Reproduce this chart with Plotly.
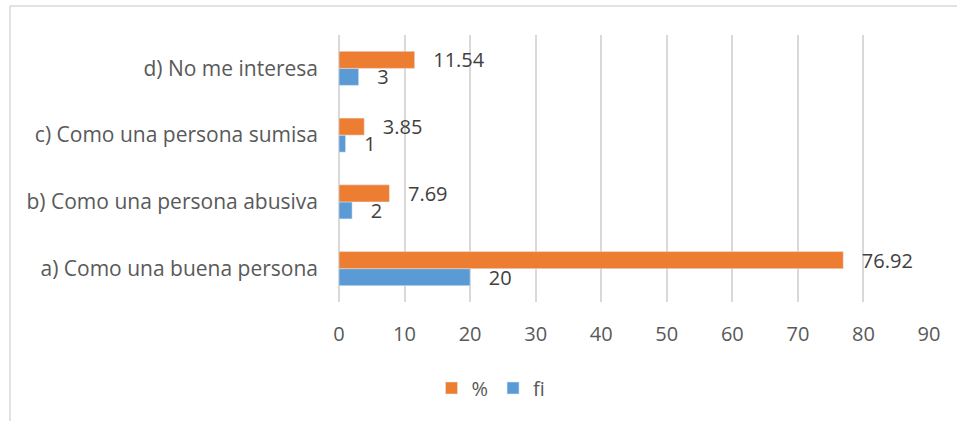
import plotly.graph_objects as go

categories = ["a) Como una buena persona", "b) Como una persona abusiva",
              "c) Como una persona sumisa", "d) No me interesa"]
fi_values = [20, 2, 1, 3]
pct_values = [76.92, 7.69, 3.85, 11.54]
x_ticks = [0, 10, 20, 30, 40, 50, 60, 70, 80, 90]

FONT = "Open Sans"
W, H = 957, 421
L, R, T, B = 339, 28, 35, 119
pw, ph = W - L - R, H - T - B

fig = go.Figure()
fig.add_trace(go.Bar(
    y=categories, x=fi_values, name="fi", orientation="h",
    marker=dict(color="#5B9BD5"),
    text=[f"{v:g}" for v in fi_values], texttemplate="   %{text}",
    textposition="outside", cliponaxis=False, constraintext="none",
    textfont=dict(family=FONT, size=20, color="#404040"),
))
fig.add_trace(go.Bar(
    y=categories, x=pct_values, name="%", orientation="h",
    marker=dict(color="#ED7D31"),
    text=[f"{v:.2f}" for v in pct_values], texttemplate="   %{text}",
    textposition="outside", cliponaxis=False, constraintext="none",
    textfont=dict(family=FONT, size=20, color="#404040"),
))

def px_x(px):
    return (px - L) / pw

def px_y(py):
    return (H - B - py) / ph

fig.update_layout(
    width=W, height=H,
    margin=dict(l=L, r=R, t=T, b=B, autoexpand=False),
    paper_bgcolor="white", plot_bgcolor="white",
    barmode="group", bargap=0.49, bargroupgap=0,
    font=dict(family=FONT, size=20, color="#595959"),
    showlegend=True,
    legend=dict(orientation="h", traceorder="reversed",
                x=px_x(491), xanchor="center", y=px_y(388), yanchor="middle",
                font=dict(family=FONT, size=20, color="#595959"),
                itemwidth=30, bgcolor="rgba(0,0,0,0)"),
    shapes=[dict(type="rect", xref="paper", yref="paper",
                 x0=px_x(10), x1=px_x(1200), y0=px_y(600), y1=px_y(6),
                 line=dict(color="#D9D9D9", width=1.5), fillcolor="rgba(0,0,0,0)",
                 layer="below")],
)
fig.update_xaxes(range=[0, 90], tickvals=x_ticks, showgrid=True,
                 gridcolor="#D9D9D9", gridwidth=1.5, zeroline=True,
                 zerolinecolor="#D9D9D9", zerolinewidth=1.5, showline=False,
                 ticklabelstandoff=18, automargin=False,
                 tickfont=dict(family=FONT, size=20, color="#595959"))
fig.update_yaxes(categoryorder="array", categoryarray=categories,
                 showgrid=False, showline=False, ticks="",
                 ticklabelstandoff=20, automargin=False,
                 tickfont=dict(family=FONT, size=21, color="#595959"))

fig.write_html("out.html", config={"displayModeBar": False},
               post_script="document.body.style.margin='0';document.body.style.overflow='hidden';")
